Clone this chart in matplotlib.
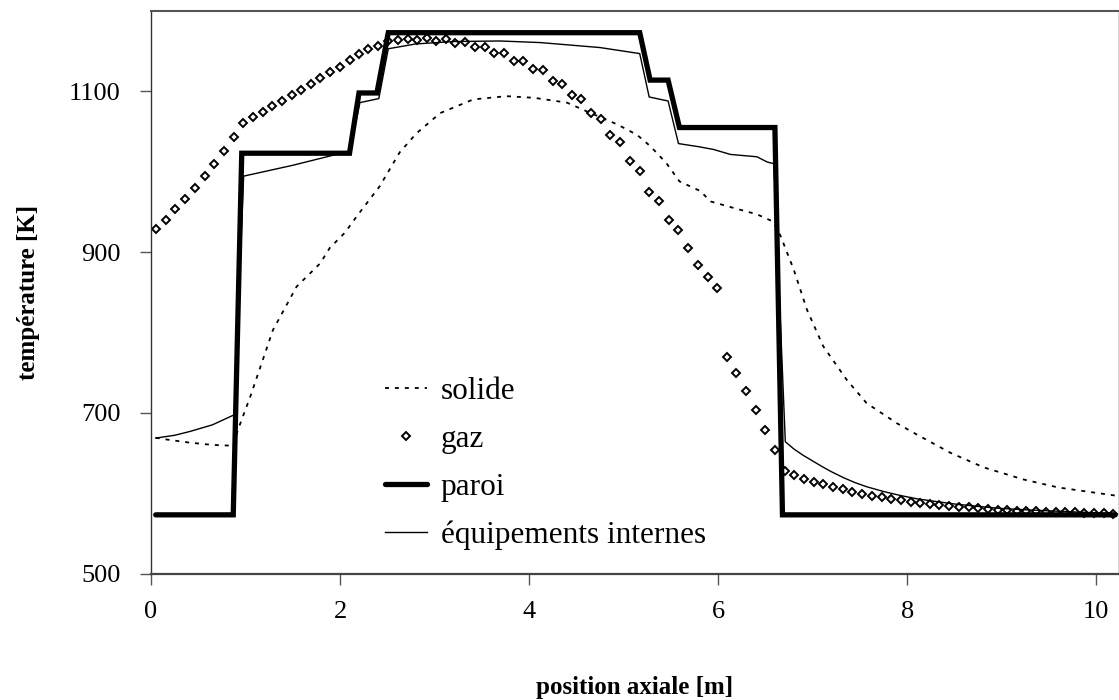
import matplotlib
matplotlib.use("Agg")
import matplotlib.pyplot as plt

plt.rcParams['font.family'] = ['Liberation Serif', 'DejaVu Serif']

# --- data ---
solide_x = [0.05, 0.15, 0.40, 0.65, 0.87, 0.92, 1.05, 1.29, 1.54, 1.79, 1.89, 2.05, 2.18,
            2.42, 2.63, 2.81, 3.06, 3.41, 3.76, 4.05, 4.40, 4.65, 4.93, 5.14, 5.28, 5.45,
            5.59, 5.81, 5.92, 6.16, 6.41, 6.58, 6.66, 6.80, 6.94, 7.11, 7.36, 7.57, 7.89,
            8.10, 8.46, 8.81, 9.23, 9.60, 10.20]
solide_T = [669, 667, 663, 660, 659, 679, 720, 803, 857, 886, 905, 924, 945,
            982, 1024, 1048, 1073, 1090, 1094, 1092, 1086, 1073, 1059, 1046, 1032, 1011,
            988, 976, 963, 955, 947, 938, 920, 878, 828, 783, 741, 712, 687,
            673, 650, 632, 617, 607, 597]

gaz_x = [0.05, 0.155, 0.257, 0.36, 0.466, 0.568, 0.667, 0.772, 0.875, 0.977,
         1.076, 1.18, 1.284, 1.386, 1.489, 1.59, 1.69, 1.79, 1.894, 1.997,
         2.10, 2.20, 2.30, 2.405, 2.51, 2.61, 2.716, 2.815, 2.917, 3.02,
         3.12, 3.22, 3.326, 3.43, 3.53, 3.63, 3.735, 3.84, 3.94, 4.04,
         4.145, 4.25, 4.35, 4.45, 4.55, 4.656, 4.76, 4.86, 4.96, 5.07,
         5.17, 5.27, 5.376, 5.48, 5.58, 5.68, 5.785, 5.887, 5.99, 6.09,
         6.19, 6.29, 6.40, 6.50, 6.60, 6.71, 6.80, 6.906, 7.01, 7.11,
         7.21, 7.32, 7.42, 7.52, 7.63, 7.73, 7.83, 7.93, 8.04, 8.14,
         8.24, 8.34, 8.44, 8.55, 8.65, 8.75, 8.85, 8.96, 9.06, 9.16,
         9.26, 9.36, 9.47, 9.57, 9.67, 9.77, 9.87, 9.98, 10.08, 10.18]
gaz_T = [929, 940.5, 953, 966, 980, 994.5, 1010, 1025.5, 1043.5, 1061,
         1068, 1074.7, 1081.7, 1088.4, 1095.4, 1102, 1109, 1116, 1123.7, 1130.8,
         1139, 1147, 1152.7, 1157, 1162.7, 1163.6, 1165.2, 1164, 1166, 1163,
         1164.8, 1160.7, 1161.5, 1155.7, 1155.7, 1148, 1147.7, 1138, 1138, 1127.4,
         1126.6, 1113.3, 1109.6, 1096, 1091, 1073, 1066, 1045.6, 1036.8, 1013,
         1000.3, 974.5, 963.8, 939.3, 927, 905.6, 883.6, 869.5, 855.8, 770,
         749.5, 727, 703.7, 678.8, 654, 628, 622.7, 617.8, 614.4, 611,
         608, 605, 602, 599, 597, 595, 593, 591, 589.5, 588,
         586.6, 585.4, 584, 583.2, 582.4, 581.6, 580.4, 579.5, 579, 578.3,
         578, 577.5, 577, 576.6, 576.2, 576, 575.6, 575.2, 574.8, 574.4]

paroi_x = [0.05, 0.87, 0.96, 2.10, 2.20, 2.39, 2.51, 5.17, 5.28, 5.47, 5.59, 6.60, 6.68, 10.20]
paroi_T = [573, 573, 1023, 1023, 1098, 1098, 1173, 1173, 1114, 1114, 1055, 1055, 573, 573]

equip_x = [0.05, 0.25, 0.41, 0.65, 0.88, 0.98, 1.50, 1.96, 2.10, 2.21, 2.41, 2.51, 2.80,
           3.20, 3.69, 4.12, 4.75, 5.17, 5.27, 5.47, 5.58, 5.80, 5.95, 6.13, 6.41, 6.52,
           6.59, 6.71, 6.80, 6.90, 7.00, 7.10, 7.20, 7.33, 7.45, 7.57, 7.75, 7.93, 8.10,
           8.28, 8.50, 8.75, 8.98, 9.30, 9.69, 10.20]
equip_T = [668.5, 672, 676.7, 685, 697.5, 994.5, 1008, 1021.5, 1023, 1086, 1091, 1153, 1159,
           1162, 1162.7, 1160.7, 1154.5, 1147, 1093, 1088, 1035, 1031, 1027.7, 1021.5, 1018.6, 1012,
           1010, 664, 655, 647, 640, 633, 626.5, 619, 613, 608, 602, 597, 593,
           590, 586.5, 583.5, 581, 579, 577, 574.5]

x_ticks = [0, 2, 4, 6, 8, 10]
y_ticks = [500, 700, 900, 1100]

labels = ["solide", "gaz", "paroi", "équipements internes"]

fig = plt.figure(figsize=(11.19, 7.00), dpi=100)
ax = fig.add_axes([151/1119, 1 - 573.5/700, (1119 - 151)/1119, (573.5 - 11)/700])

ax.plot(solide_x, solide_T, color='black', lw=1.3, ls=(0, (2.2, 3.3)), label=labels[0])
ax.plot(gaz_x, gaz_T, ls='none', marker='D', ms=4.2, mfc='white', mec='black', mew=1.4,
        label=labels[1])
ax.plot(paroi_x, paroi_T, color='black', lw=3.8, solid_capstyle='round',
        solid_joinstyle='miter', label=labels[2])
ax.plot(equip_x, equip_T, color='black', lw=1.0, label=labels[3])

ax.set_xlim(0, 10.24)
ax.set_ylim(500, 1200)
ax.set_xticks(x_ticks)
ax.set_yticks(y_ticks)
ax.tick_params(axis='both', direction='out', length=8, width=1.0, color='#555555',
               labelsize=19)
ax.tick_params(axis='x', pad=12)
ax.tick_params(axis='y', pad=14)

for side in ['top', 'left', 'right', 'bottom']:
    ax.spines[side].set_color('#333333')
    ax.spines[side].set_linewidth(1.0)
ax.spines['bottom'].set_color('#444444')
ax.spines['bottom'].set_linewidth(1.6)
ax.spines['top'].set_color('#555555')
ax.spines['top'].set_linewidth(1.5)

ax.set_xlabel("position axiale [m]", fontsize=18, fontweight='bold', labelpad=38)
ax.set_ylabel("température [K]", fontsize=18, fontweight='bold', labelpad=21)

leg = ax.legend(loc='upper left', bbox_to_anchor=(0.242, 0.35), frameon=False,
                fontsize=22.5, handlelength=1.35, handletextpad=0.42, labelspacing=0.61,
                borderpad=0, borderaxespad=0, numpoints=1)

fig.savefig("out.png", dpi=100)
